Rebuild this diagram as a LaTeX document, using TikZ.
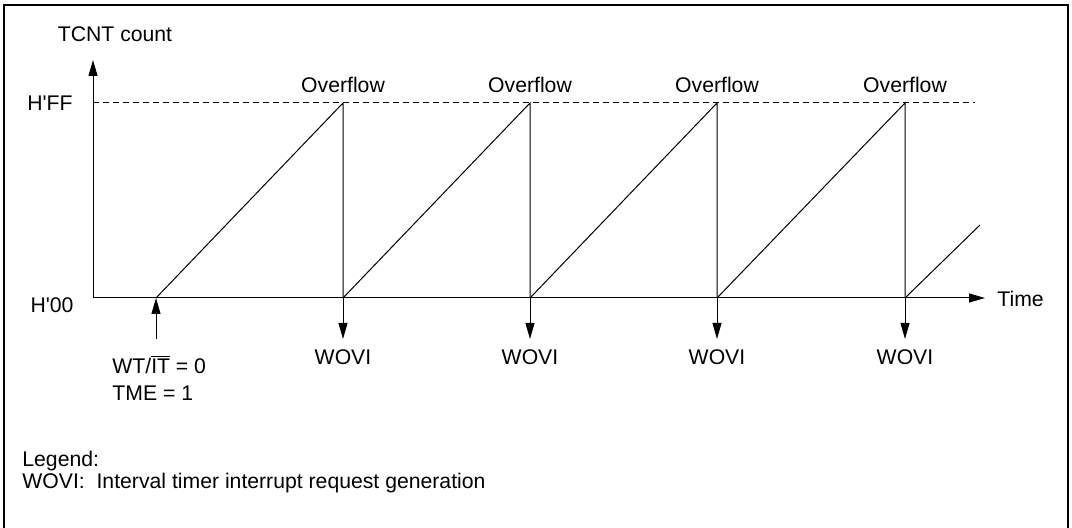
\documentclass[tikz,border=0pt]{standalone}
\usepackage{fontspec}
\setmainfont{Liberation Sans}
\usetikzlibrary{arrows.meta, positioning}

\begin{document}
\begin{tikzpicture}[x=0.5pt, y=-0.5pt,
    lbl/.style={font=\fontsize{10.6}{13.5}\selectfont, inner sep=0pt},
    arrow/.style={-{Triangle[length=8pt, width=4.5pt]}, line width=0.5pt},
    ramp/.style={line width=0.5pt}
]
\useasboundingbox (0,0) rectangle (1072,528);

% Frame (open at the bottom edge)
\draw[line width=1.4pt] (4,540) -- (4,5) -- (1068,5) -- (1068,540);

% Axes
\coordinate (o) at (93,298);
\coordinate (ytop) at (93,60);
\coordinate (xend) at (985,298);
\node[lbl] (tcnt) at (115,34) {TCNT count};
\node[lbl, anchor=west] (time) at (997,299) {Time};
\node[lbl] (hff) at (50,103) {H\textquotesingle FF};
\node[lbl] (h00) at (52,305) {H\textquotesingle 00};
\draw[arrow] (o) -- (ytop);
\draw[arrow] (o) -- (xend);

% Top count level
\coordinate (ff) at (93,103);
\coordinate (ffend) at (975,103);
\draw[ramp, dash pattern=on 3pt off 2pt] (ff) -- (ffend);

% Start condition
\coordinate (s0) at (156,298);
\coordinate (trig) at (156,339);
\node[lbl, anchor=north west, align=left] (cond) at (112,355)
    {WT/$\overline{\mbox{IT}}$ = 0\\TME = 1};
\draw[arrow] (trig) -- (s0);

% Saw-tooth count with overflows
\foreach \a/\b/\i in {156/343/1, 343/530/2, 530/717/3, 717/905/4} {
    \coordinate (top\i) at (\b,103);
    \coordinate (d\i) at (\b,298);
    \draw[ramp] (\a,298) -- (top\i) -- (d\i);
    \node[lbl] (ovf\i) at (\b,85) {Overflow};
    \node[lbl, anchor=north] (wovi\i) at (\b,349) {WOVI};
    \draw[arrow, shorten >=5pt] (d\i) -- (wovi\i.north);
}
\coordinate (last) at (980,225);
\draw[ramp] (d4) -- (last);

% Legend
\node[lbl, anchor=north west, align=left, font=\fontsize{10.6}{10.8}\selectfont] (legend) at (22,451)
    {Legend:\\WOVI:\ \ Interval timer interrupt request generation};

\end{tikzpicture}
\end{document}
